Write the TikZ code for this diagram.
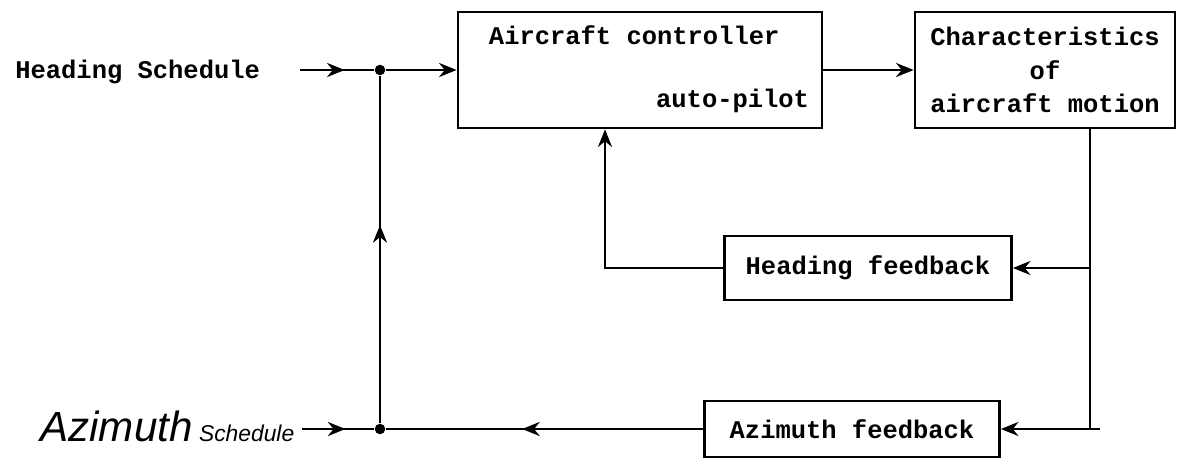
\documentclass[tikz,border=0pt]{standalone}
\usepackage{fontspec}
\setmonofont{Liberation Mono}
\setsansfont{Liberation Sans}
\usepackage{tikz}
\usetikzlibrary{positioning,arrows.meta,decorations.markings}

\tikzset{
  block/.style={draw, line width=1.6pt, inner sep=0pt},
  lbl/.style={font=\ttfamily\bfseries\fontsize{14.5}{19}\selectfont, inner sep=0pt},
  hand/.style={font=\sffamily\itshape\fontsize{13}{15}\selectfont, inner sep=0pt},
  flow/.style={line width=1.4pt},
  tip/.style={-{Stealth[length=10pt,width=8pt]}},
  midtip/.style={postaction={decorate},
    decoration={markings, mark=at position #1 with {\arrow{Stealth[length=10pt,width=8pt]}}}},
  junction/.style={circle, fill, inner sep=0pt, minimum size=6pt},
}

\begin{document}
\begin{tikzpicture}[x=0.02cm, y=-0.02cm]
  \useasboundingbox (0,0) rectangle (1190,457);

  % blocks
  \node[block, minimum width=7.28cm, minimum height=2.32cm] (ctrl) at (640,70) {};
  \node[lbl, below right=0.3cm and 0.64cm of ctrl.north west] (ctrltop) {Aircraft controller};
  \node[lbl, above left=0.32cm and 0.28cm of ctrl.south east] (ctrlbot) {auto-pilot};
  \node[block, lbl, minimum width=5.2cm, minimum height=2.32cm, align=center] (chars) at (1045,70)
    {Characteristics\\of\\aircraft motion};
  \node[block, lbl, minimum width=5.74cm, minimum height=1.28cm] (hfb) at (868,268) {Heading feedback};
  \node[block, lbl, minimum width=5.9cm, minimum height=1.12cm] (afb) at (852,429) {Azimuth feedback};

  % inputs
  \node[lbl, anchor=west] (hsched) at (15,72) {Heading Schedule};
  \node[hand, anchor=base west] (asched) at (40,441) {{\fontsize{24}{26}\selectfont Azimuth} Schedule};
  \coordinate (hsin) at (300,70);
  \coordinate (asin) at (302,429);
  \node[junction] (jtop) at (380,70) {};
  \node[junction] (jbot) at (380,429) {};
  \coordinate (tap) at (1090,429);
  \coordinate (tapend) at (1100,429);

  % connectors
  \draw[flow, midtip=0.6] (hsin) -- (jtop);
  \draw[flow, tip] (jtop) -- (ctrl.west);
  \draw[flow, tip] (ctrl.east) -- (chars.west);
  \draw[flow] (tap |- chars.south) -- (tap) -- (tapend);
  \draw[flow, tip] (tap |- hfb.east) -- (hfb.east);
  \draw[flow, tip] (tap) -- (afb.east);
  \draw[flow, tip] (hfb.west) -| ([xshift=-0.7cm]ctrl.south);
  \draw[flow, midtip=0.57] (afb.west) -- (jbot);
  \draw[flow, midtip=0.57] (jbot) -- (jtop);
  \draw[flow, midtip=0.6] (asin) -- (jbot);
\end{tikzpicture}
\end{document}
